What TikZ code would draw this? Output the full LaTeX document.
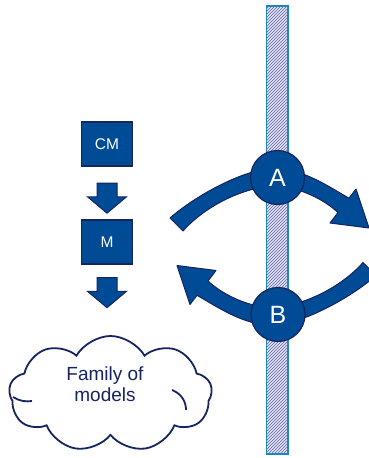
\documentclass[tikz,border=0pt]{standalone}
\usepackage{fontspec}
\setmainfont{Liberation Sans}
\usetikzlibrary{shapes.symbols, shapes.arrows, patterns}
\definecolor{myblue}{RGB}{0, 75, 150}
\definecolor{mynavy}{RGB}{22, 36, 96}
\definecolor{mybar}{RGB}{30, 135, 190}
\definecolor{myhatch}{RGB}{95, 95, 175}
\definecolor{mylavender}{RGB}{228, 228, 242}

\begin{document}
\begin{tikzpicture}[x=1pt, y=-1pt,
          box/.style={draw=mynavy,fill=myblue,line width=1.2pt,minimum width=51pt,
                      minimum height=44pt,text=white,font=\fontsize{15.5}{15.5}\selectfont},
          downarrow/.style={single arrow,shape border rotate=270,draw=mynavy,fill=myblue,
                      line width=1pt,inner xsep=9.5pt,inner ysep=0pt,minimum height=30pt,
                      single arrow head extend=9.5pt,single arrow tip angle=100},
          hub/.style={circle,draw=mynavy,fill=myblue,line width=1.2pt,minimum size=54pt,
                      inner sep=0pt,text=white,font=\fontsize{25}{25}\selectfont},
          turn/.style={draw=mynavy,fill=myblue,line width=1pt,line join=round},
          turnarrow/.pic={
            \path[turn] (-107,-27.5) .. controls (-82,-49.5) and (-32,-77.5) .. (0,-77.5)
              .. controls (28,-75) and (50,-60) .. (72,-47.3)
              -- (79,-56.5) -- (92,-17.5) -- (53,-22.5) -- (61,-33)
              .. controls (47,-46) and (23,-58) .. (0,-59.5)
              .. controls (-32,-59.5) and (-72,-39.5) .. (-94,-14.5) -- cycle;
          }]
        \useasboundingbox (0,0) rectangle (369,458);
        % hatched bar
        \node[draw=mybar,line width=1.8pt,preaction={fill=mylavender},
              pattern=north east lines,pattern color=myhatch,
              minimum width=21.7pt,minimum height=448pt,inner sep=0pt](bar) at (277.3,230){};
        % the two turning arrows
        \pic at (277,245.5){turnarrow};
        \pic[rotate=180] at (269,248){turnarrow};
        \node[hub](a) at (277.5,177.5){A};
        \node[hub](b) at (278,314.5){B};
        % models on the left
        \node[box](cm) at (107,144){CM};
        \node[downarrow](cmdown) at (107,194){};
        \node[box](m) at (107,242){M};
        \node[downarrow](mdown) at (107,288.5){};
        \node[cloud,cloud puffs=9,cloud puff arc=120,aspect=1.75,draw=mynavy,
              line width=1.8pt,fill=white,minimum width=203pt,minimum height=116pt](cloud)
              at (110.5,394){};
        \draw[mynavy,line width=1.8pt] (172,390) .. controls (182,394) and (186,402) .. (186,410);
        \draw[mynavy,line width=1.8pt] (13,397) .. controls (19,401) and (26,402) .. (32,401);
        \node[align=center,text=mynavy,font=\fontsize{19}{21}\selectfont](family)
              at (105,384){Family of\\models};
      \end{tikzpicture}
\end{document}
